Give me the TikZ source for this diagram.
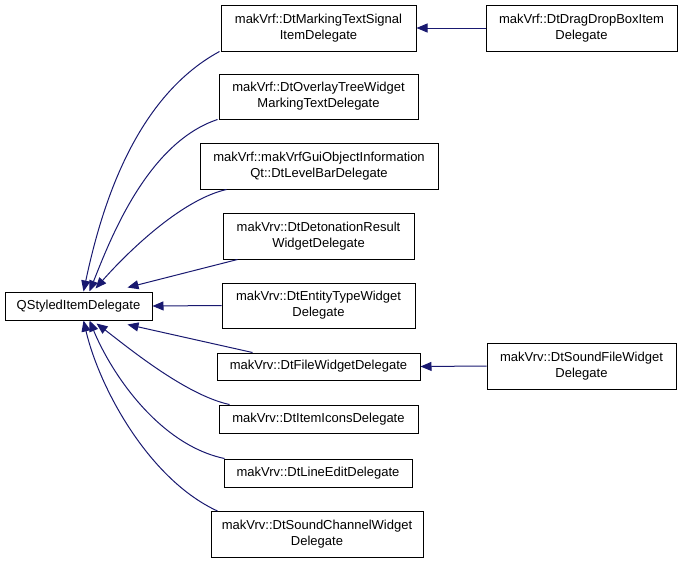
\documentclass[tikz,border=0pt]{standalone}
\usepackage{fontspec}
\setmainfont{Liberation Sans}
\usetikzlibrary{arrows.meta}
\definecolor{edgeblue}{RGB}{25,25,112}
\begin{document}
\begin{tikzpicture}[x=1pt,y=-1pt,
  cls/.style={draw=black,line width=1pt,fill=white,rectangle,inner sep=0pt,align=center,
    font=\fontsize{13}{16}\selectfont,text=black},
  edge/.style={draw=edgeblue,line width=1pt,-{Triangle[length=11pt,width=9pt]}}]
\useasboundingbox (0,0) rectangle (683,563);
% nodes
\node[cls,minimum width=147pt,minimum height=28pt] (base) at (78.5,306) {QStyledItemDelegate};
\node[cls,minimum width=195pt,minimum height=46pt] (mts) at (318.5,28) {makVrf::DtMarkingTextSignal\\ItemDelegate};
\node[cls,minimum width=191pt,minimum height=46pt] (ddb) at (581.5,28) {makVrf::DtDragDropBoxItem\\Delegate};
\node[cls,minimum width=199pt,minimum height=45pt] (ovl) at (318.5,96.5) {makVrf::DtOverlayTreeWidget\\MarkingTextDelegate};
\node[cls,minimum width=238pt,minimum height=46pt] (gui) at (319,166) {makVrf::makVrfGuiObjectInformation\\Qt::DtLevelBarDelegate};
\node[cls,minimum width=191pt,minimum height=46pt] (det) at (318.5,236) {makVrv::DtDetonationResult\\WidgetDelegate};
\node[cls,minimum width=193pt,minimum height=45pt] (ent) at (318.5,305.5) {makVrv::DtEntityTypeWidget\\Delegate};
\node[cls,minimum width=203pt,minimum height=27pt] (fil) at (318.5,366.5) {makVrv::DtFileWidgetDelegate};
\node[cls,minimum width=189pt,minimum height=46pt] (sfw) at (581.5,366) {makVrv::DtSoundFileWidget\\Delegate};
\node[cls,minimum width=199pt,minimum height=28pt] (ico) at (318.5,419) {makVrv::DtItemIconsDelegate};
\node[cls,minimum width=188pt,minimum height=28pt] (lin) at (318,473) {makVrv::DtLineEditDelegate};
\node[cls,minimum width=212pt,minimum height=46pt] (snd) at (317,534.5) {makVrv::DtSoundChannelWidget\\Delegate};
% edges
\draw[edge] ([xshift=-1pt]mts.south west) .. controls (132,99) and (100,214) .. ([xshift=79pt]base.north west);
\draw[edge] ([xshift=-1pt]ovl.south west) .. controls (147,143) and (110,240) .. ([xshift=85pt]base.north west);
\draw[edge] ([xshift=27pt]gui.south west) .. controls (180,200) and (125,255) .. ([xshift=91pt,yshift=3pt]base.north west);
\draw[edge] ([xshift=15pt]det.south west) -- ([xshift=123pt,yshift=4pt]base.north west);
\draw[edge] (ent.west) -- (base.east);
\draw[edge] ([xshift=36pt]fil.north west) -- ([xshift=123pt,yshift=-4pt]base.south west);
\draw[edge] ([xshift=11pt]ico.north west) .. controls (185,395) and (125,345) .. ([xshift=92pt,yshift=-3pt]base.south west);
\draw[edge] ([xshift=1pt]lin.north west) .. controls (160,445) and (112,375) .. ([xshift=85pt]base.south west);
\draw[edge] ([xshift=7pt]snd.north west) .. controls (150,480) and (100,390) .. ([xshift=79pt]base.south west);
\draw[edge] (ddb.west) -- (mts.east);
\draw[edge] (sfw.west) -- (fil.east);
\end{tikzpicture}
\end{document}
